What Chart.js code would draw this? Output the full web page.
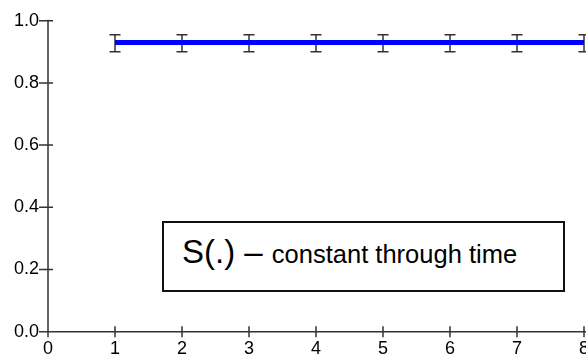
<!DOCTYPE html>
<html>
<head>
<meta charset="utf-8">
<script src="https://cdn.jsdelivr.net/npm/chart.js@4"></script>
<style>
    body { margin: 0; background: #fff; }
    #wrap { position: relative; width: 586px; height: 357px; }
    #note {
        position: absolute; left: 162px; top: 221px; width: 403px; height: 71px;
        border: 2px solid #111; box-sizing: border-box; background: #fff;
        font-family: "Liberation Sans", Arial, sans-serif; color: #000;
    }
    #note div { position: absolute; left: 18px; top: 12px; white-space: nowrap; font-size: 33px; line-height: 33px; }
    #note span { font-size: 25.5px; }
</style>
</head>
<body>
<div id="wrap">
    <canvas id="survivalChart" width="586" height="357"></canvas>
    <div id="note"><div>S(.) – <span>constant through time</span></div></div>
</div>
<script>
// survival estimate per occasion, with 95% bounds
const timePoints = [1, 2, 3, 4, 5, 6, 7, 8];
const survival = [0.93, 0.93, 0.93, 0.93, 0.93, 0.93, 0.93, 0.93];
const survivalLower = [0.90, 0.90, 0.90, 0.90, 0.90, 0.90, 0.90, 0.90];
const survivalUpper = [0.955, 0.955, 0.955, 0.955, 0.955, 0.955, 0.955, 0.955];
const xTicks = [0, 1, 2, 3, 4, 5, 6, 7, 8];
const yTicks = [0.0, 0.2, 0.4, 0.6, 0.8, 1.0];

const axisColor = '#333';
Chart.defaults.font.family = 'Liberation Sans';
Chart.defaults.font.size = 18;
Chart.defaults.color = '#000';

// error bars drawn under the line
const errorBars = {
    id: 'errorBars',
    beforeDatasetsDraw(chart) {
        const { ctx, scales: { x, y } } = chart;
        ctx.save();
        ctx.strokeStyle = axisColor;
        ctx.lineWidth = 1.5;
        timePoints.forEach((t, i) => {
            const px = x.getPixelForValue(t);
            const top = y.getPixelForValue(survivalUpper[i]);
            const bot = y.getPixelForValue(survivalLower[i]);
            ctx.beginPath();
            ctx.moveTo(px, top); ctx.lineTo(px, bot);
            ctx.moveTo(px - 5.5, top); ctx.lineTo(px + 5.5, top);
            ctx.moveTo(px - 5.5, bot); ctx.lineTo(px + 5.5, bot);
            ctx.stroke();
        });
        ctx.restore();
    }
};

// axis lines with ticks crossing them
const crossAxes = {
    id: 'crossAxes',
    afterDraw(chart) {
        const { ctx, chartArea: a, scales: { x, y } } = chart;
        ctx.save();
        ctx.strokeStyle = axisColor;
        ctx.lineWidth = 1.5;
        ctx.beginPath();
        ctx.moveTo(a.left, a.top - 1); ctx.lineTo(a.left, a.bottom);
        ctx.lineTo(a.right + 2, a.bottom);
        yTicks.forEach(v => {
            const py = y.getPixelForValue(v);
            ctx.moveTo(a.left - 9, py); ctx.lineTo(a.left + 5, py);
        });
        xTicks.forEach(v => {
            const px = x.getPixelForValue(v);
            ctx.moveTo(px, a.bottom - 5.5); ctx.lineTo(px, a.bottom + 5.5);
        });
        ctx.stroke();
        ctx.restore();
    }
};

new Chart(document.getElementById('survivalChart'), {
    type: 'scatter',
    data: {
        datasets: [{
            data: timePoints.map((t, i) => ({ x: t, y: survival[i] })),
            showLine: true,
            borderColor: '#0000ff',
            borderWidth: 5,
            pointRadius: 0,
            pointHoverRadius: 0
        }]
    },
    options: {
        responsive: false,
        animation: false,
        layout: { padding: { top: 20.7, right: 2, left: 0, bottom: 0 } },
        plugins: { legend: { display: false }, tooltip: { enabled: false } },
        scales: {
            x: {
                type: 'linear', min: 0, max: 8,
                grid: { display: false, drawTicks: false },
                border: { display: false },
                afterBuildTicks: s => { s.ticks = xTicks.map(v => ({ value: v })); },
                afterFit: s => { s.height = 25.3; s.paddingLeft = 0; s.paddingRight = 0; },
                ticks: { padding: 7, maxRotation: 0, autoSkip: false,
                    callback: v => String(v) }
            },
            y: {
                min: 0, max: 1,
                grid: { display: false, drawTicks: false },
                border: { display: false },
                afterBuildTicks: s => { s.ticks = yTicks.map(v => ({ value: v })); },
                afterFit: s => { s.width = 48; s.paddingTop = 0; s.paddingBottom = 0; },
                ticks: { padding: 9, callback: v => v.toFixed(1) }
            }
        }
    },
    plugins: [errorBars, crossAxes]
});
</script>
</body>
</html>
